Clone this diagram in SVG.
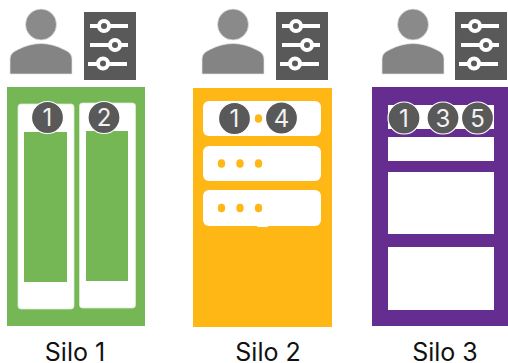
<svg xmlns="http://www.w3.org/2000/svg" width="508" height="363" viewBox="0 0 508 363">
<defs>
<linearGradient id="g" x1="0" y1="0" x2="0" y2="1"><stop offset="0" stop-color="#8c8c8c"/><stop offset="1" stop-color="#7f7f7f"/></linearGradient>
<g id="user"><circle cx="41" cy="24.5" r="15.5" fill="#8a8a8a" stroke="#e4e4e4" stroke-width=".7"/><path d="M10 74V59Q10 53 17 50Q29 43.500 41 43.500T65 50Q72 53 72 59V74Z" fill="#848484" stroke="#e4e4e4" stroke-width=".7"/></g>
<g id="sliders"><rect x="84" y="12" width="52" height="68" fill="#595959"/>
<path d="M90 26H128M90 45H128M88 64H127" stroke="#fff" stroke-width="4" fill="none"/>
<circle cx="104" cy="26" r="5" fill="#595959" stroke="#fff" stroke-width="4"/><circle cx="115" cy="45" r="5" fill="#595959" stroke="#fff" stroke-width="4"/><circle cx="103" cy="63.500" r="5" fill="#595959" stroke="#fff" stroke-width="4"/></g>
</defs>
<style>
.b{fill:#595959;stroke:#fff;stroke-width:1.200}
.n{font-family:"Inter","Liberation Sans",sans-serif;font-size:24px;fill:#f2f2f2;text-anchor:middle}
.l{font-family:"Inter","Liberation Sans",sans-serif;font-size:25px;fill:#111;text-anchor:middle}
.d{fill:#ffb716}
.w{fill:#fff}
.s{fill:#fff;stroke:#dcebd2;stroke-width:.8}
.gr{fill:#75b655}
</style>
<g id="silo1">
<use href="#user"/><use href="#sliders"/>
<rect x="7" y="87" width="138" height="239" class="gr"/>
<rect x="18" y="104" width="56" height="205" rx="3" class="s"/>
<rect x="79.500" y="103" width="56" height="205" rx="3" class="s"/>
<rect x="24" y="132" width="43" height="150" class="gr"/>
<rect x="86" y="131" width="42" height="150" class="gr"/>
<circle cx="47.500" cy="117.500" r="16" class="b"/><text x="47.500" y="126" class="n">1</text>
<circle cx="104" cy="117.500" r="16" class="b"/><text x="104" y="126" class="n">2</text>
<text x="75" y="361" class="l">Silo 1</text>
</g>
<g id="silo2">
<use href="#user" x="192"/><use href="#sliders" x="192"/>
<rect x="193" y="88" width="139" height="239" class="d"/>
<rect x="203" y="101" width="118" height="35" rx="6" class="w"/>
<rect x="203" y="146" width="118" height="35" rx="6" class="w"/>
<rect x="203" y="190" width="118" height="36" rx="6" class="w"/>
<rect x="257" y="224" width="11" height="3" rx="1" class="w"/>
<ellipse cx="258.500" cy="118.500" rx="3.700" ry="4.300" class="d"/>
<ellipse cx="221.500" cy="163.500" rx="3.700" ry="4.300" class="d"/><ellipse cx="240" cy="163.500" rx="3.700" ry="4.300" class="d"/><ellipse cx="258.500" cy="163.500" rx="3.700" ry="4.300" class="d"/>
<ellipse cx="221.500" cy="208" rx="3.700" ry="4.300" class="d"/><ellipse cx="240" cy="208" rx="3.700" ry="4.300" class="d"/><ellipse cx="258.500" cy="208" rx="3.700" ry="4.300" class="d"/>
<circle cx="234.500" cy="118.500" r="16" class="b"/><text x="234.500" y="127" class="n">1</text>
<circle cx="281.500" cy="118" r="16" class="b"/><text x="281.500" y="126.500" class="n">4</text>
<text x="268" y="361" class="l">Silo 2</text>
</g>
<g id="silo3">
<use href="#user" x="372"/><use href="#sliders" x="371"/>
<rect x="372" y="87" width="139" height="239" fill="#662d91"/>
<rect x="388" y="105" width="106" height="24" class="w"/>
<rect x="388" y="137" width="106" height="24" class="w"/>
<rect x="388" y="172" width="106" height="62" class="w"/>
<rect x="388" y="247" width="106" height="63" class="w"/>
<circle cx="404" cy="118" r="16" class="b"/><text x="404" y="126.500" class="n">1</text>
<circle cx="443" cy="118" r="16" class="b"/><text x="443" y="126.500" class="n">3</text>
<circle cx="477.500" cy="118" r="16" class="b"/><text x="477.500" y="126.500" class="n">5</text>
<text x="445" y="361" class="l">Silo 3</text>
</g>
<g id="connectors"/>
</svg>
